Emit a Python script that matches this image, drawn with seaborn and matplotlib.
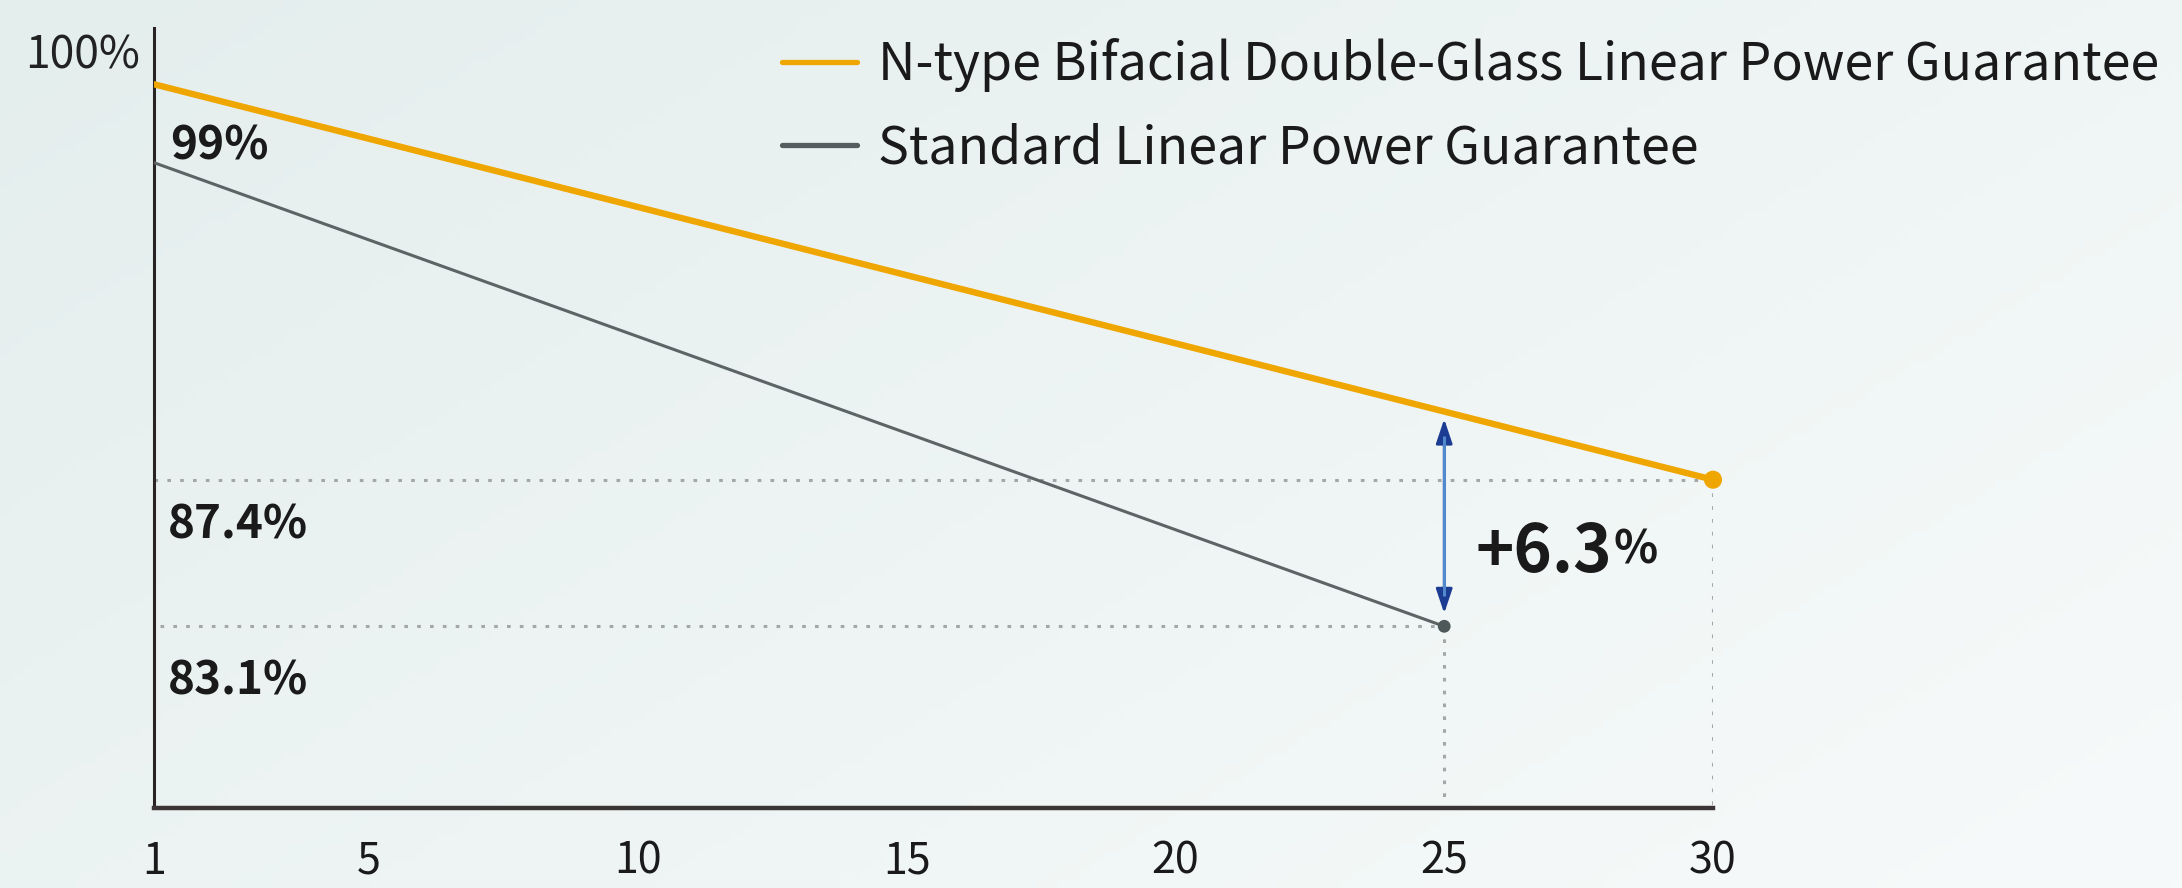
import numpy as np
import pandas as pd
import matplotlib
matplotlib.use("Agg")
import matplotlib.pyplot as plt
from matplotlib.lines import Line2D
import seaborn as sns

# ---------------- data ----------------
series_names = ["N-type Bifacial Double-Glass Linear Power Guarantee",
                "Standard Linear Power Guarantee"]
ntype_years = [1, 30]
ntype_values = [99.0, 87.4]
std_years = [1, 25]
std_values = [96.7, 83.1]
x_ticks = [1, 5, 10, 15, 20, 25, 30]
y_top_label = "100%"
gap_label_main = "+6.3"
gap_label_unit = "%"

# ---------------- style ----------------
sns.set_theme(style="white")
plt.rcParams["font.family"] = ["Noto Sans CJK SC", "DejaVu Sans"]

ORANGE = "#F0A600"
GRAY = "#5d6465"
DOT = "#a3a7a9"
TXT = "#1a1a1a"

fig = plt.figure(figsize=(21.82, 8.88), dpi=100)

# background gradient
bg = fig.add_axes([0, 0, 1, 1], zorder=0)
gx, gy = np.meshgrid(np.linspace(0, 1, 200), np.linspace(0, 1, 100))
t = np.clip(0.6 * gx + 0.4 * gy, 0, 1)
c0 = np.array([228, 238, 237]) / 255.0
c1 = np.array([247, 250, 250]) / 255.0
img = c0[None, None, :] * (1 - t[..., None]) + c1[None, None, :] * t[..., None]
bg.imshow(img, extent=[0, 1, 0, 1], aspect="auto", origin="upper")
bg.axis("off")

ax = fig.add_axes([154 / 2182, 80 / 888, (1713 - 154) / 2182, (808 - 28) / 888], zorder=1)
ax.set_facecolor("none")

df_n = pd.DataFrame({"year": ntype_years, "value": ntype_values, "series": series_names[0]})
df_s = pd.DataFrame({"year": std_years, "value": std_values, "series": series_names[1]})

ax.set_xlim(1, 30)
ylow, yhigh = 77.77, 100.65
ax.set_ylim(ylow, yhigh)

# dotted reference lines
dot_style = dict(color=DOT, lw=2.2, linestyle=(0, (1.2, 3.0)), zorder=1)
ax.plot([ntype_years[0], ntype_years[-1]], [ntype_values[-1]] * 2, **dot_style)
ax.plot([ntype_years[-1]] * 2, [ntype_values[-1], ylow], **dot_style)
ax.plot([1.12, std_years[-1]], [std_values[-1]] * 2, **dot_style)
ax.plot([std_years[-1]] * 2, [std_values[-1], ylow], **dot_style)

# lines
sns.lineplot(data=df_s, x="year", y="value", color=GRAY, lw=2.2, ax=ax, zorder=3)
sns.lineplot(data=df_n, x="year", y="value", color=ORANGE, lw=4.6, ax=ax, zorder=4)
sns.scatterplot(data=df_n.iloc[[-1]], x="year", y="value", color=ORANGE, s=170,
                edgecolor="none", ax=ax, zorder=5, clip_on=False)
sns.scatterplot(data=df_s.iloc[[-1]], x="year", y="value", color="#4e5859", s=85,
                edgecolor="none", ax=ax, zorder=5, clip_on=False)

# gap arrow at year 25
x_gap = std_years[-1]
n_at_gap = np.interp(x_gap, ntype_years, ntype_values)
top = n_at_gap - 0.22
bot = std_values[-1] + 0.38
ax.annotate("", xy=(x_gap, top), xytext=(x_gap, bot),
            arrowprops=dict(arrowstyle="<|-|>,head_length=1.25,head_width=0.42",
                            color="#1b3c92", lw=2.0, shrinkA=0, shrinkB=0,
                            mutation_scale=12),
            zorder=6)
ax.plot([x_gap, x_gap], [bot + 0.5, top - 0.5], color="#5189cc", lw=2.2, zorder=7,
        solid_capstyle="butt")

# gap label
ytxt = 100 - (545 - 50) / 34.1
t1 = ax.text(25.58, ytxt, gap_label_main, fontsize=47, fontweight="bold", color=TXT,
             ha="left", va="center_baseline", zorder=8)
fig.canvas.draw()
bb = t1.get_window_extent()
inv = ax.transData.inverted()
x_end = inv.transform((bb.x1, bb.y0))[0]
ax.text(x_end + 0.03, ytxt, gap_label_unit, fontsize=33, fontweight="bold", color=TXT,
        ha="left", va="center_baseline", zorder=8)

# value labels
lab_kw = dict(fontsize=33, fontweight="bold", color=TXT, ha="left", va="center",
              textcoords="offset pixels", zorder=8)
ax.annotate(f"{ntype_values[0]:g}%", xy=(1, ntype_values[0]), xytext=(16, -62), **lab_kw)
ax.annotate(f"{ntype_values[-1]:g}%", xy=(1, ntype_values[-1]), xytext=(14, -46), **lab_kw)
ax.annotate(f"{std_values[-1]:g}%", xy=(1, std_values[-1]), xytext=(14, -55), **lab_kw)

# axes styling
ax.set_xticks(x_ticks)
ax.set_xticklabels([str(v) for v in x_ticks], fontsize=31, color=TXT)
ax.set_yticks([100])
ax.set_yticklabels([y_top_label], fontsize=32, color="#222222")
ax.tick_params(axis="x", length=0, pad=23)
ax.tick_params(axis="y", length=0, pad=10)
ax.set_xlabel("")
ax.set_ylabel("")
for s in ["top", "right"]:
    ax.spines[s].set_visible(False)
ax.spines["left"].set_color("#2a2323")
ax.spines["left"].set_linewidth(2.2)
ax.spines["bottom"].set_color("#3b3434")
ax.spines["bottom"].set_linewidth(3.2)
ax.grid(False)
if ax.get_legend() is not None:
    ax.get_legend().remove()

handles = [Line2D([], [], color=ORANGE, lw=3.8), Line2D([], [], color="#555c5d", lw=3.8)]
leg = ax.legend(handles, series_names, loc="upper left",
                bbox_to_anchor=(782 / 2182, 1 - 38 / 888), bbox_transform=fig.transFigure,
                frameon=False, fontsize=37.3, handlelength=1.45, handletextpad=0.40,
                labelspacing=0.58, borderpad=0, borderaxespad=0)
for txt in leg.get_texts():
    txt.set_color(TXT)

fig.savefig("out.png", dpi=100)
